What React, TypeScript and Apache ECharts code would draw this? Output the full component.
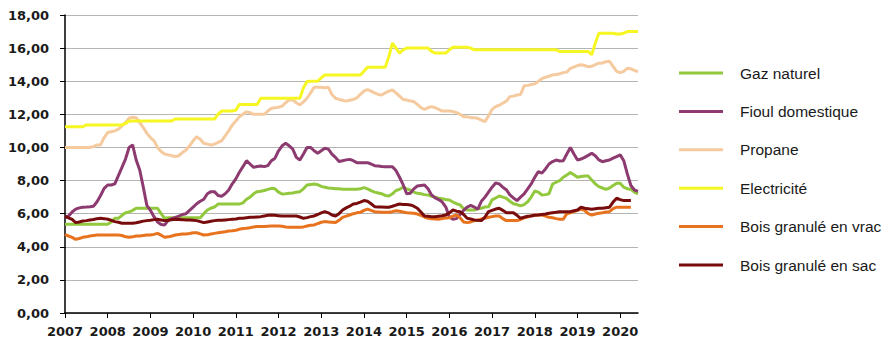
import React, { useEffect, useRef } from "react";
import * as echarts from "echarts";

const years = [2007, 2008, 2009, 2010, 2011, 2012, 2013, 2014, 2015, 2016, 2017, 2018, 2019, 2020];
const lastYearMonths = 6;

const gazNaturel = [
  5.36, 5.36, 5.36, 5.36, 5.36, 5.36, 5.36, 5.36, 5.36, 5.36, 5.36, 5.36,
  5.36, 5.5, 5.72, 5.72, 5.9, 6.06, 6.1, 6.2, 6.33, 6.33, 6.33, 6.33,
  6.33, 6.33, 6.33, 6.0, 5.72, 5.76, 5.76, 5.76, 5.76, 5.76, 5.76, 5.76,
  5.76, 5.76, 5.76, 6.0, 6.22, 6.33, 6.4, 6.58, 6.58, 6.58, 6.58, 6.58,
  6.58, 6.58, 6.65, 6.87, 7.0, 7.2, 7.33, 7.35, 7.4, 7.47, 7.53, 7.5,
  7.3, 7.19, 7.2, 7.23, 7.25, 7.3, 7.33, 7.5, 7.73, 7.76, 7.79, 7.75,
  7.65, 7.6, 7.55, 7.53, 7.5, 7.5, 7.47, 7.47, 7.47, 7.47, 7.47, 7.5,
  7.57, 7.5, 7.39, 7.3, 7.25, 7.2, 7.1, 7.07, 7.2, 7.4, 7.47, 7.6,
  7.5, 7.43, 7.3, 7.23, 7.2, 7.15, 7.13, 7.05, 7.0, 6.93, 6.9, 6.85,
  6.83, 6.7, 6.6, 6.53, 6.3, 6.22, 6.22, 6.22, 6.3, 6.33, 6.4, 6.42,
  6.83, 6.95, 7.07, 7.0, 6.93, 6.75, 6.6, 6.55, 6.47, 6.55, 6.72, 7.0,
  7.37, 7.3, 7.13, 7.15, 7.2, 7.79, 7.9, 8.0, 8.2, 8.34, 8.48, 8.35,
  8.2, 8.25, 8.28, 8.28, 8.04, 7.8, 7.63, 7.55, 7.47, 7.55, 7.7, 7.84,
  7.84, 7.6, 7.5, 7.47, 7.3, 7.19,
];

const fioulDomestique = [
  5.75, 5.86, 6.1, 6.27, 6.35, 6.39, 6.4, 6.42, 6.45, 6.72, 7.1, 7.53,
  7.73, 7.73, 7.8, 8.3, 8.8, 9.3, 10.0, 10.15, 9.24, 8.64, 7.6, 6.5,
  6.2, 5.82, 5.5, 5.35, 5.32, 5.6, 5.7, 5.78, 5.85, 5.95, 6.0, 6.2,
  6.4, 6.6, 6.75, 6.87, 7.2, 7.33, 7.33, 7.1, 7.05, 7.2, 7.43, 7.8,
  8.1, 8.5, 8.84, 9.2, 9.0, 8.8, 8.85, 8.88, 8.84, 8.9, 9.2, 9.35,
  9.8, 10.1, 10.25, 10.1, 9.9, 9.4, 9.24, 9.6, 10.0, 10.0, 9.8, 9.65,
  9.8, 9.95, 9.9, 9.6, 9.4, 9.15, 9.2, 9.25, 9.28, 9.2, 9.08, 9.08,
  9.08, 9.08, 9.0, 8.9, 8.88, 8.85, 8.84, 8.84, 8.84, 8.6, 8.2, 7.75,
  7.2, 7.23, 7.5, 7.67, 7.7, 7.73, 7.5, 7.13, 6.95, 6.85, 6.7, 6.4,
  5.8, 5.66, 5.7, 5.95, 6.2, 6.4, 6.5, 6.4, 6.27, 6.75, 7.0, 7.3,
  7.6, 7.85, 7.8, 7.6, 7.45, 7.13, 6.95, 6.79, 7.0, 7.2, 7.5, 7.8,
  8.2, 8.54, 8.45, 8.7, 9.0, 9.15, 9.24, 9.18, 9.2, 9.6, 10.0, 9.6,
  9.24, 9.3, 9.4, 9.52, 9.65, 9.5, 9.25, 9.14, 9.2, 9.24, 9.35, 9.45,
  9.55, 9.2, 8.4, 7.7, 7.43, 7.35,
];

const propane = [
  10.0, 10.0, 10.0, 10.0, 10.0, 10.0, 10.0, 10.0, 10.05, 10.15, 10.15, 10.6,
  10.9, 10.95, 11.0, 11.1, 11.3, 11.5, 11.76, 11.82, 11.8, 11.5, 11.2, 10.85,
  10.6, 10.4, 10.0, 9.75, 9.6, 9.55, 9.5, 9.45, 9.5, 9.7, 9.85, 10.1,
  10.4, 10.65, 10.5, 10.25, 10.2, 10.15, 10.2, 10.3, 10.4, 10.7, 11.0, 11.36,
  11.6, 11.86, 12.0, 12.15, 12.1, 12.0, 12.0, 12.0, 12.0, 12.2, 12.37, 12.4,
  12.43, 12.5, 12.7, 12.87, 12.87, 12.7, 12.57, 12.75, 12.97, 13.3, 13.63, 13.63,
  13.63, 13.6, 13.63, 13.2, 12.97, 12.9, 12.85, 12.8, 12.85, 12.9, 13.0, 13.2,
  13.4, 13.5, 13.4, 13.3, 13.2, 13.17, 13.3, 13.4, 13.47, 13.3, 13.1, 12.9,
  12.87, 12.8, 12.77, 12.6, 12.4, 12.3, 12.4, 12.47, 12.4, 12.3, 12.2, 12.2,
  12.2, 12.17, 12.1, 12.0, 11.86, 11.85, 11.8, 11.8, 11.75, 11.65, 11.56, 11.9,
  12.3, 12.47, 12.55, 12.67, 12.8, 13.07, 13.1, 13.17, 13.2, 13.72, 13.75, 13.8,
  13.84, 14.0, 14.15, 14.24, 14.3, 14.38, 14.4, 14.45, 14.52, 14.55, 14.78, 14.85,
  14.95, 15.0, 14.95, 14.88, 14.9, 15.0, 15.09, 15.1, 15.18, 15.2, 14.9, 14.6,
  14.52, 14.6, 14.78, 14.75, 14.65, 14.58,
];

const electricite = [
  11.25, 11.25, 11.25, 11.25, 11.25, 11.25, 11.36, 11.36, 11.36, 11.36, 11.36, 11.36,
  11.36, 11.36, 11.36, 11.36, 11.36, 11.45, 11.6, 11.6, 11.6, 11.6, 11.6, 11.6,
  11.6, 11.6, 11.6, 11.6, 11.6, 11.6, 11.6, 11.72, 11.72, 11.72, 11.72, 11.72,
  11.72, 11.72, 11.72, 11.72, 11.72, 11.72, 11.72, 12.0, 12.2, 12.2, 12.2, 12.2,
  12.25, 12.6, 12.6, 12.6, 12.6, 12.6, 12.6, 12.97, 12.97, 12.97, 12.97, 12.97,
  12.97, 12.97, 12.97, 12.97, 12.97, 12.97, 12.97, 13.6, 13.98, 14.0, 14.0, 14.0,
  14.2, 14.38, 14.38, 14.38, 14.38, 14.38, 14.38, 14.38, 14.38, 14.38, 14.38, 14.38,
  14.6, 14.85, 14.85, 14.85, 14.85, 14.85, 14.85, 15.5, 16.3, 16.0, 15.7, 15.9,
  16.0, 16.0, 16.0, 16.0, 16.0, 16.0, 16.0, 15.8, 15.7, 15.7, 15.7, 15.7,
  15.9, 16.05, 16.05, 16.05, 16.05, 16.05, 16.0, 15.9, 15.9, 15.9, 15.9, 15.9,
  15.9, 15.9, 15.9, 15.9, 15.9, 15.9, 15.9, 15.9, 15.9, 15.9, 15.9, 15.9,
  15.9, 15.9, 15.9, 15.9, 15.9, 15.9, 15.9, 15.8, 15.8, 15.8, 15.8, 15.8,
  15.8, 15.8, 15.8, 15.8, 15.6, 16.3, 16.9, 16.9, 16.9, 16.9, 16.9, 16.85,
  16.85, 16.9, 17.0, 17.0, 17.0, 17.0,
];

const boisVrac = [
  4.75, 4.65, 4.57, 4.45, 4.5, 4.57, 4.6, 4.65, 4.68, 4.71, 4.71, 4.71,
  4.71, 4.71, 4.71, 4.71, 4.68, 4.6, 4.57, 4.6, 4.65, 4.65, 4.68, 4.71,
  4.71, 4.75, 4.81, 4.7, 4.57, 4.6, 4.65, 4.71, 4.74, 4.77, 4.77, 4.8,
  4.85, 4.85, 4.78, 4.71, 4.72, 4.77, 4.81, 4.85, 4.88, 4.91, 4.95, 4.97,
  5.0, 5.06, 5.1, 5.12, 5.15, 5.2, 5.22, 5.22, 5.23, 5.24, 5.25, 5.26,
  5.26, 5.24, 5.2, 5.18, 5.18, 5.18, 5.18, 5.2, 5.25, 5.3, 5.32, 5.4,
  5.48, 5.52, 5.5, 5.48, 5.46, 5.6, 5.78, 5.85, 5.92, 6.0, 6.05, 6.08,
  6.2, 6.28, 6.2, 6.12, 6.1, 6.08, 6.08, 6.08, 6.12, 6.18, 6.15, 6.1,
  6.06, 6.04, 6.02, 5.98, 5.9, 5.8, 5.72, 5.7, 5.68, 5.66, 5.7, 5.74,
  5.76, 5.85, 5.92, 5.75, 5.5, 5.46, 5.5, 5.58, 5.6, 5.68, 5.72, 5.78,
  5.82, 5.86, 5.86, 5.7, 5.58, 5.58, 5.58, 5.58, 5.65, 5.75, 5.8, 5.88,
  5.92, 5.92, 5.92, 5.85, 5.78, 5.75, 5.7, 5.66, 5.66, 6.0, 6.05, 6.12,
  6.2, 6.27, 6.2, 6.0, 5.92, 5.98, 6.03, 6.06, 6.1, 6.12, 6.3, 6.39,
  6.39, 6.39, 6.39, 6.39,
];

const boisSac = [
  5.85, 5.75, 5.65, 5.46, 5.5, 5.56, 5.58, 5.62, 5.65, 5.7, 5.72, 5.7,
  5.66, 5.6, 5.52, 5.48, 5.42, 5.42, 5.42, 5.42, 5.45, 5.5, 5.55, 5.58,
  5.6, 5.64, 5.66, 5.62, 5.58, 5.6, 5.63, 5.66, 5.65, 5.64, 5.62, 5.62,
  5.6, 5.58, 5.52, 5.46, 5.5, 5.54, 5.58, 5.6, 5.6, 5.62, 5.64, 5.66,
  5.68, 5.72, 5.72, 5.75, 5.78, 5.78, 5.8, 5.82, 5.86, 5.9, 5.92, 5.9,
  5.88, 5.86, 5.86, 5.86, 5.86, 5.86, 5.8, 5.72, 5.76, 5.82, 5.86, 5.95,
  6.05, 6.12, 6.05, 5.92, 5.86, 6.0, 6.22, 6.35, 6.45, 6.58, 6.62, 6.7,
  6.79, 6.75, 6.6, 6.42, 6.4, 6.4, 6.39, 6.39, 6.45, 6.52, 6.58, 6.56,
  6.55, 6.53, 6.45, 6.33, 6.1, 5.86, 5.84, 5.82, 5.82, 5.85, 5.88, 5.92,
  6.05, 6.22, 6.15, 6.12, 5.95, 5.72, 5.68, 5.62, 5.6, 5.58, 5.8, 6.12,
  6.2, 6.28, 6.33, 6.2, 6.06, 6.06, 6.06, 5.9, 5.72, 5.78, 5.84, 5.86,
  5.9, 5.92, 5.95, 5.98, 6.02, 6.05, 6.08, 6.12, 6.12, 6.12, 6.12, 6.18,
  6.22, 6.39, 6.33, 6.3, 6.27, 6.3, 6.33, 6.33, 6.36, 6.39, 6.7, 6.93,
  6.85, 6.79, 6.79, 6.79,
];

const seriesNames = [
  "Gaz naturel",
  "Fioul domestique",
  "Propane",
  "Electricité",
  "Bois granulé en vrac",
  "Bois granulé en sac",
];
const seriesColors = ["#92C83E", "#8C3A70", "#F5CA9E", "#F6F622", "#E8731E", "#780C0C"];

const months: string[] = [];
years.forEach((y, i) => {
  const n = i === years.length - 1 ? lastYearMonths : 12;
  for (let m = 1; m <= n; m++) months.push(`${y}-${m < 10 ? "0" + m : m}`);
});

export default function App() {
  const ref = useRef<HTMLDivElement>(null);
  useEffect(() => {
    if (!ref.current) return;
    const chart = echarts.init(ref.current, undefined, { renderer: "svg" });
    const data = [gazNaturel, fioulDomestique, propane, electricite, boisVrac, boisSac];
    const font = "'DejaVu Sans', Verdana, sans-serif";
    chart.setOption({
      animation: false,
      backgroundColor: "#ffffff",
      grid: { left: 65, right: 257, top: 15, bottom: 45, containLabel: false },
      legend: {
        orient: "vertical",
        left: 679,
        top: 64,
        padding: 0,
        itemGap: 20.4,
        itemWidth: 44,
        itemHeight: 3,
        icon: "rect",
        selectedMode: false,
        data: seriesNames,
        textStyle: {
          fontFamily: "'Liberation Sans', Arial, sans-serif",
          fontSize: 15.5,
          color: "#1a1a1a",
          lineHeight: 18,
          padding: [0, 0, 0, 12],
        },
      },
      xAxis: {
        type: "category",
        data: months,
        boundaryGap: false,
        axisLine: { lineStyle: { color: "#000", width: 1.5 } },
        axisTick: {
          interval: (idx: number) => idx % 12 === 0,
          length: 5,
          lineStyle: { color: "#000" },
        },
        axisLabel: {
          interval: (idx: number) => idx % 12 === 0,
          formatter: (v: string) => v.slice(0, 4),
          margin: 12,
          fontFamily: font,
          fontWeight: "bold",
          fontSize: 13,
          color: "#1a1a1a",
        },
        splitLine: { show: false },
      },
      yAxis: {
        type: "value",
        min: 0,
        max: 18,
        interval: 2,
        axisLine: { show: true, lineStyle: { color: "#000", width: 1.5 } },
        axisTick: { show: true, length: 5, lineStyle: { color: "#000" } },
        axisLabel: {
          formatter: (v: number) => v.toFixed(2).replace(".", ","),
          margin: 16,
          fontFamily: font,
          fontWeight: "bold",
          fontSize: 13,
          color: "#1a1a1a",
        },
        splitLine: { lineStyle: { color: "#B4B4B4", width: 1 } },
      },
      series: seriesNames.map((name, i) => ({
        name,
        type: "line",
        data: data[i],
        symbol: "none",
        smooth: false,
        lineStyle: { color: seriesColors[i], width: 3 },
        itemStyle: { color: seriesColors[i] },
        z: 2 + i,
      })),
    });
    return () => chart.dispose();
  }, []);
  return <div ref={ref} style={{ width: 895, height: 358, margin: -8 }} />;
}
